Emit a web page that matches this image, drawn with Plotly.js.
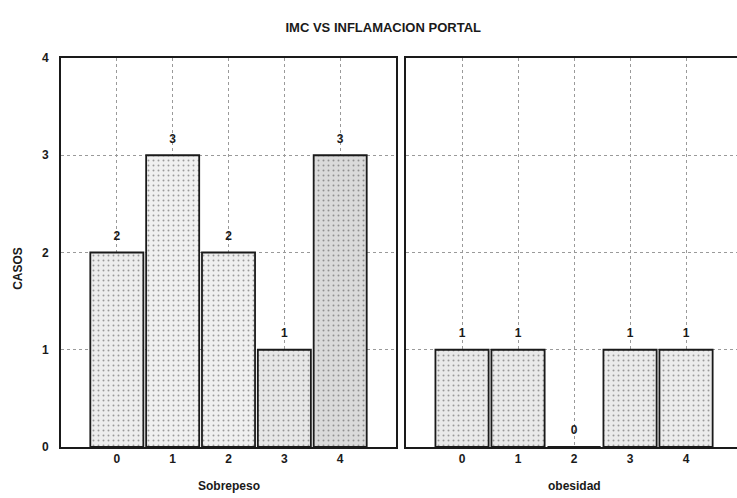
<!DOCTYPE html>
<html>
<head>
<meta charset="utf-8">
<script src="https://cdn.plot.ly/plotly-3.0.1.min.js"></script>
<style>html,body{margin:0;padding:0;background:#fff;}#chart{width:737px;height:498px;}</style>
</head>
<body>
<div id="chart"></div>
<script>
const categories = [0, 1, 2, 3, 4];
const tickLabels = ['0', '1', '2', '3', '4'];
const sobrepeso = [2, 3, 2, 1, 3];
const obesidad = [1, 1, 0, 1, 1];
const yTicks = [0, 1, 2, 3, 4];
const panelTitles = ['Sobrepeso', 'obesidad'];
const chartTitle = 'IMC VS INFLAMACION PORTAL';
const yTitle = 'CASOS';

const leftFill = ['#ededed', '#f0f0f0', '#efefef', '#e7e7e7', '#dadada'];
const rightFill = ['#e9e9e9', '#e9e9e9', '#e9e9e9', '#ebebeb', '#ececec'];
const FONT = 'Liberation Sans, Arial, sans-serif';

function barTrace(y, fills, xa, ya) {
  return {
    type: 'bar', x: categories, y: y, xaxis: xa, yaxis: ya, width: 0.95,
    marker: {
      color: fills,
      line: {color: '#1a1a1a', width: 1.8},
      pattern: {shape: '.', fgcolor: '#c4c4c4', size: 5, solidity: 0.12, fillmode: 'overlay'}
    },
    hoverinfo: 'skip', showlegend: false
  };
}
function textTrace(y, xa, ya) {
  return {
    type: 'scatter', mode: 'markers+text', x: categories, y: y, xaxis: xa, yaxis: ya,
    marker: {size: 14, color: 'rgba(0,0,0,0)'},
    text: y.map(String), textposition: 'top center',
    textfont: {family: FONT, size: 12, color: '#1a1a1a', weight: 'bold'},
    hoverinfo: 'skip', showlegend: false, cliponaxis: false
  };
}

const data = [
  barTrace(sobrepeso, leftFill, 'x', 'y'),
  barTrace(obesidad, rightFill, 'x2', 'y2'),
  textTrace(sobrepeso, 'x', 'y'),
  textTrace(obesidad, 'x2', 'y2')
];

const gridStyle = {showgrid: true, gridcolor: '#9a9a9a', griddash: 'dot', gridwidth: 1, zeroline: false};

const layout = {
  width: 737, height: 498,
  margin: {l: 61, r: 0, t: 58, b: 51},
  paper_bgcolor: '#fff', plot_bgcolor: '#fff',
  font: {family: FONT, size: 12, color: '#1a1a1a'},
  title: {text: chartTitle, x: 0.52, xanchor: 'center', y: 0.945, yanchor: 'middle',
          font: {family: 'Liberation Sans Narrow, Liberation Sans, Arial', size: 13, color: '#1a1a1a', weight: 'bold'}},
  xaxis: Object.assign({domain: [0, 0.4956], range: [-1, 5], tickvals: categories, ticktext: tickLabels,
    showline: true, linecolor: '#1a1a1a', linewidth: 2, mirror: true, ticks: '', ticklen: 0,
    tickfont: {size: 12, weight: 'bold'}, fixedrange: true}, gridStyle),
  yaxis: Object.assign({domain: [0, 1], range: [0, 4], tickvals: yTicks,
    showline: true, linecolor: '#1a1a1a', linewidth: 2, mirror: true, ticks: '',
    tickfont: {size: 12, weight: 'bold'}, ticklabelstandoff: 8}, gridStyle),
  xaxis2: Object.assign({domain: [0.5104, 1], range: [-1, 4.91], tickvals: categories, ticktext: tickLabels,
    showline: true, linecolor: '#1a1a1a', linewidth: 2, mirror: true, ticks: '', anchor: 'y2',
    tickfont: {size: 12, weight: 'bold'}}, gridStyle),
  yaxis2: Object.assign({domain: [0, 1], range: [0, 4], tickvals: yTicks, anchor: 'x2',
    showline: true, linecolor: '#1a1a1a', linewidth: 2, mirror: false, ticks: '', showticklabels: false}, gridStyle),
  annotations: [
    {text: panelTitles[0], x: 2, xref: 'x', y: -0.1, yref: 'paper', showarrow: false, yanchor: 'middle',
     font: {size: 12, weight: 'bold'}},
    {text: panelTitles[1], x: 2, xref: 'x2', y: -0.1, yref: 'paper', showarrow: false, yanchor: 'middle',
     font: {size: 12, weight: 'bold'}},
    {text: yTitle, x: -0.064, xref: 'paper', y: 0.46, yref: 'paper', showarrow: false, textangle: -90,
     xanchor: 'center', yanchor: 'middle', font: {size: 12, weight: 'bold'}}
  ]
};

Plotly.newPlot('chart', data, layout, {staticPlot: true});
</script>
</body>
</html>
